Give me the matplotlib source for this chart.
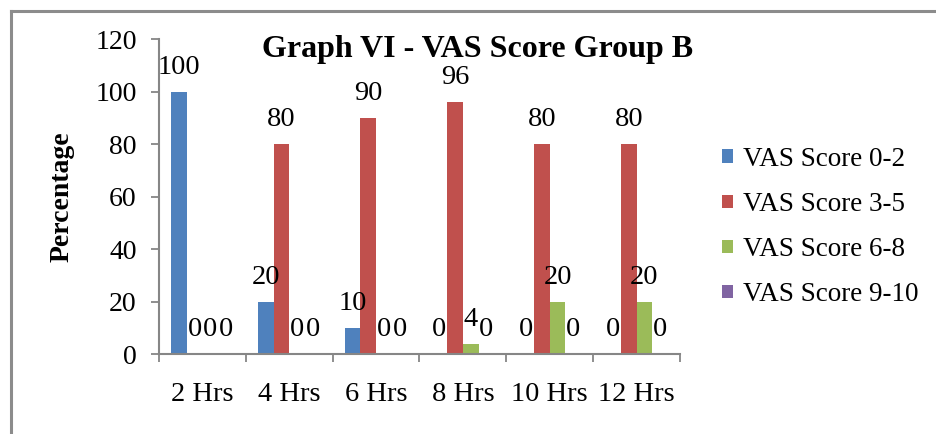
import matplotlib
matplotlib.use("Agg")
import matplotlib.pyplot as plt
from matplotlib.lines import Line2D
from matplotlib.patches import Patch
import numpy as np

categories = ["2 Hrs", "4 Hrs", "6 Hrs", "8 Hrs", "10 Hrs", "12 Hrs"]
series_names = ["VAS Score 0-2", "VAS Score 3-5", "VAS Score 6-8", "VAS Score 9-10"]
vas_0_2 = [100, 20, 10, 0, 0, 0]
vas_3_5 = [0, 80, 90, 96, 80, 80]
vas_6_8 = [0, 0, 0, 4, 20, 20]
vas_9_10 = [0, 0, 0, 0, 0, 0]
colors = ["#4F81BD", "#C0504D", "#9BBB59", "#8064A2"]
yticks = [0, 20, 40, 60, 80, 100, 120]

plt.rcParams['font.family'] = ['Liberation Serif', 'DejaVu Serif']

W, H = 937, 434
fig = plt.figure(figsize=(W / 100, H / 100), dpi=100)
ax = fig.add_axes([159 / W, 1 - 354.3 / H, (680 - 159) / W, (354.3 - 39.3) / H])

FS = 20.5
x = np.arange(len(categories))
bw = 0.18
all_series = [vas_0_2, vas_3_5, vas_6_8, vas_9_10]
for i, (vals, c) in enumerate(zip(all_series, colors)):
    offs = (i - 1.5) * bw
    ax.bar(x + offs, vals, width=bw, color=c, edgecolor='none', zorder=2)
    for xi, v in zip(x, vals):
        ax.annotate(str(v), (xi + offs, v), xytext=(0, 13), textcoords='offset points',
                    ha='center', va='baseline', fontsize=FS, zorder=3)

ax.set_xlim(-0.5, len(categories) - 0.5)
ax.set_ylim(0, 120)
ax.set_yticks(yticks)
ax.set_yticklabels([str(t) for t in yticks], fontsize=20)
ax.set_xticks(x)
ax.set_xticklabels(categories, fontsize=FS)
ax.set_xticks(np.arange(-0.5, len(categories)), minor=True)
ax.tick_params(axis='x', which='major', length=0, pad=20)
ax.tick_params(axis='x', which='minor', length=6, width=1.3, color='#868686', direction='out')
ax.tick_params(axis='y', length=6, width=1.3, color='#868686', direction='out', pad=10)
for s in ['top', 'right']:
    ax.spines[s].set_visible(False)
for s in ['left', 'bottom']:
    ax.spines[s].set_color('#868686')
    ax.spines[s].set_linewidth(1.5)

fig.text(477.5 / W, 1 - 50 / H, "Graph VI - VAS Score Group B", ha='center', va='center',
         fontsize=23, fontweight='bold')
fig.text(62 / W, 1 - 197 / H, "Percentage", rotation=90, ha='center', va='center',
         fontsize=20, fontweight='bold')

handles = [Patch(facecolor=c, edgecolor='none') for c in colors]
fig.legend(handles, series_names, loc='center left', bbox_to_anchor=(722 / W, 1 - 227 / H),
           frameon=False, fontsize=19.5, handlelength=0.39, handleheight=0.39,
           handletextpad=0.37, labelspacing=0.74, borderaxespad=0, borderpad=0)

# outer frame (top and left edges visible)
fig.add_artist(Line2D([11 / W, 1.0], [1 - 10.5 / H, 1 - 10.5 / H], transform=fig.transFigure,
                      color='#8c8c8c', linewidth=2.2))
fig.add_artist(Line2D([11 / W, 11 / W], [0, 1 - 10.5 / H], transform=fig.transFigure,
                      color='#8c8c8c', linewidth=2.2))

fig.savefig("out.png", dpi=100)
